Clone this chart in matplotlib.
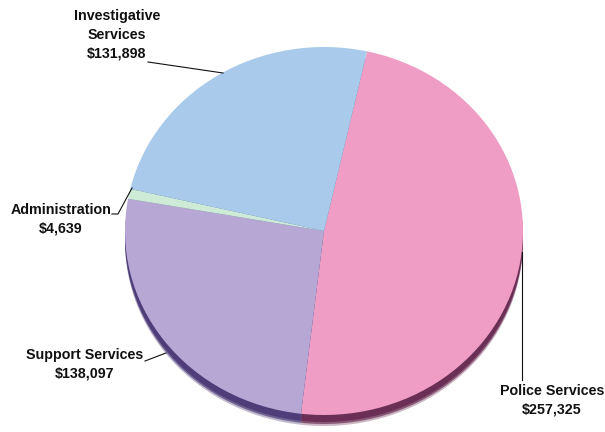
import matplotlib
matplotlib.use("Agg")
import matplotlib.pyplot as plt

# Budget by division (clockwise from the top)
divisions = ["Police Services", "Support Services", "Administration", "Investigative Services"]
amounts = [257325, 138097, 4639, 131898]
label_texts = ["Police Services\n$257,325", "Support Services\n$138,097",
               "Administration\n$4,639", "Investigative\nServices\n$131,898"]

face_colors = ["#EF9DC4", "#B6A7D5", "#CDEBD7", "#A9CAEA"]
rim_colors = ["#6B2F55", "#4E3D78", "#6E8C78", "#5E7AA0"]

W, H = 605, 432
CX, CY = 324, 231        # pie centre (pixels from top-left)
RX, RY = 199, 184        # horizontal / vertical radius in pixels

fig = plt.figure(figsize=(W / 100, H / 100), dpi=100)
ax = fig.add_axes([0, 0, 1, 1])


def px(x, y):
    """Convert pixel position (from top-left) to data coordinates."""
    return (x - CX) / RX, (CY - y) / RY


start = 90 - 12.5

# rim / shadow under the pie
for dy, a in [(11, 0.35), (9, 0.7), (7, 1.0)]:
    ax.pie(amounts, colors=rim_colors, startangle=start, counterclock=False,
           center=(0, -dy / RY), radius=1.0,
           wedgeprops=dict(linewidth=0, alpha=a))

ax.pie(amounts, colors=face_colors, startangle=start, counterclock=False,
       center=(0, 0), radius=1.0, wedgeprops=dict(linewidth=0))

ax.set_aspect("auto")
ax.set_xlim(-CX / RX, (W - CX) / RX)
ax.set_ylim(-(H - CY) / RY, CY / RY)
ax.axis("off")

font = dict(family=["Liberation Sans Narrow", "Liberation Sans", "DejaVu Sans"],
            fontsize=10.3, fontweight="bold", color="#111111")

label_pos = [(552, 400), (85, 364), (61, 219), (117, 35)]
for txt, (x, y) in zip(label_texts, label_pos):
    ax.text(*px(x, y), txt, ha="center", va="center", multialignment="center",
            linespacing=1.45, **font)

leaders = [
    [(522, 252), (522, 380)],
    [(145, 361), (166, 353)],
    [(112, 214), (118, 214), (132, 188)],
    [(148, 62), (223, 73)],
]
for pts in leaders:
    xs, ys = zip(*[px(x, y) for x, y in pts])
    ax.plot(xs, ys, color="#111111", linewidth=0.8)

fig.savefig("out.png", dpi=100)
